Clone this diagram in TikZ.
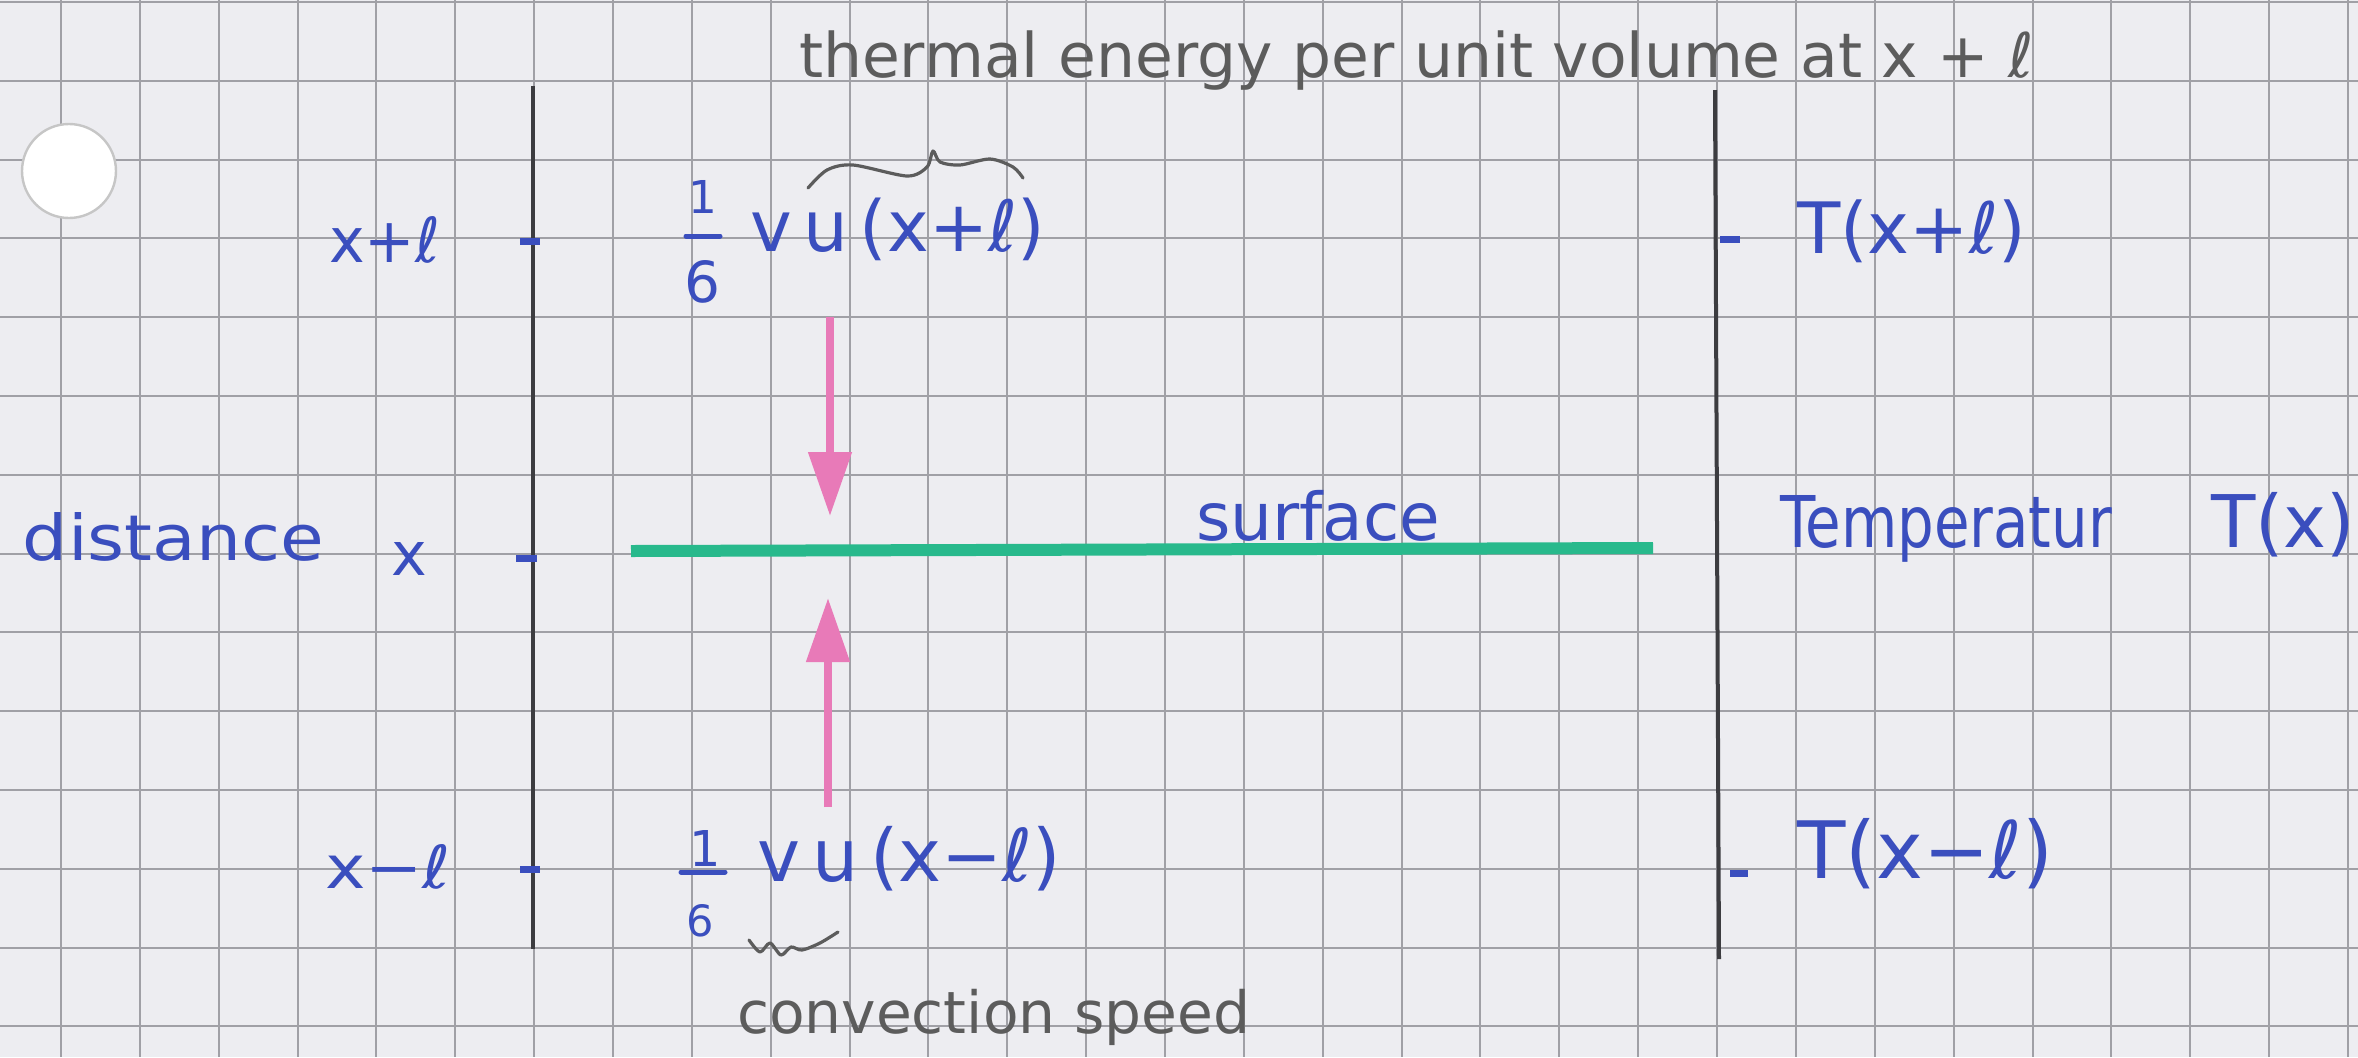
\documentclass[tikz,border=0pt]{standalone}
\usepackage{fontspec}
\setmainfont{DejaVu Sans}
\usepackage{graphicx}
\usetikzlibrary{arrows.meta}
\definecolor{paper}{RGB}{237,237,241}
\definecolor{gridc}{RGB}{160,160,166}
\definecolor{ink}{RGB}{58,78,190}
\definecolor{pencil}{RGB}{92,92,92}
\definecolor{hlpink}{RGB}{232,122,184}
\definecolor{hlgreen}{RGB}{40,185,140}
\definecolor{axisc}{RGB}{60,60,64}
\newcommand\hw[2]{\resizebox{#1pt}{!}{#2}}
\newcommand\hh[2]{\resizebox{!}{#1pt}{#2}}
\newcommand\hwh[3]{\resizebox{#1pt}{#2pt}{#3}}
\begin{document}
\begin{tikzpicture}[x=0.5pt,y=-0.5pt,
  txt/.style={inner sep=0pt, outer sep=0pt, anchor=base west},
  inktxt/.style={txt, text=ink},
  penciltxt/.style={txt, text=pencil},
  digit/.style={inner sep=0pt, outer sep=0pt, anchor=center, text=ink},
  axis/.style={draw=axisc, line width=2pt},
  tickmark/.style={draw=ink, line width=3.5pt},
  fracbar/.style={draw=ink, line width=2.5pt, line cap=round},
  flow/.style={draw=hlpink, line width=4pt, -{Triangle[width=21pt,length=32pt]}},
  surfline/.style={draw=hlgreen, line width=6pt},
  wavy/.style={draw=pencil, line width=1.6pt, line cap=round, line join=round},
  gridline/.style={draw=gridc, line width=1pt}
]
\fill[paper] (0,0) rectangle (2358,1057);
\useasboundingbox (0,0) rectangle (2358,1057);
% graph paper
\foreach \k in {0,...,29} \draw[gridline] ({61+78.86*\k},0) -- ({61+78.86*\k},1057);
\foreach \k in {0,...,13} \draw[gridline] (0,{2+78.8*\k}) -- (2358,{2+78.8*\k});
% punch hole
\draw[fill=white, draw=gray!45, line width=1.2pt] (69,171) circle [radius=23.5pt];

% vertical axes
\coordinate (Ltop) at (533,86);
\coordinate (Lbot) at (533,949);
\coordinate (Rtop) at (1715,90);
\coordinate (Rbot) at (1719,959);
\draw[axis] (Ltop) -- (Lbot);
\draw[axis] (Rtop) -- (Rbot);

% left ticks
\coordinate (t1a) at (520,241); \coordinate (t1b) at (540,241);
\coordinate (t2a) at (516,558); \coordinate (t2b) at (537,558);
\coordinate (t3a) at (520,869); \coordinate (t3b) at (540,869);
\draw[tickmark] (t1a) -- (t1b);
\draw[tickmark] (t2a) -- (t2b);
\draw[tickmark] (t3a) -- (t3b);
% right ticks
\coordinate (r1a) at (1720,239); \coordinate (r1b) at (1740,239);
\coordinate (r3a) at (1730,873); \coordinate (r3b) at (1748,873);
\draw[tickmark] (r1a) -- (r1b);
\draw[tickmark] (r3a) -- (r3b);

% top pencil note
\node[penciltxt] (topnote) at (799,77) {\hw{617.5}{thermal energy per unit volume at x + ℓ}};
\draw[wavy] plot[smooth] coordinates {(808,188) (827,170) (853,165) (907,176) (927,167) (933,151) (940,162) (960,165) (990,159) (1013,167) (1023,178)};

% left labels
\node[inktxt] (xpl) at (329,262) {\hwh{55.5}{23}{x+ℓ}};
\node[inktxt] (dist) at (23,560) {\hwh{150.5}{24}{distance}};
\node[inktxt] (xlab) at (391,575) {\hh{16.5}{x}};
\node[inktxt] (xml) at (325,888) {\hwh{63}{22}{x−ℓ}};

% upper flux
\node[digit] (one1) at (703,197) {\hh{16.5}{1}};
\coordinate (bar1a) at (686,236); \coordinate (bar1b) at (720,236);
\draw[fracbar] (bar1a) -- (bar1b);
\node[digit] (six1) at (702,282) {\hh{21}{6}};
\node[inktxt] (fup) at (750,251) {\hw{147.5}{v\,u\,(x+ℓ)}};

% lower flux
\node[digit] (one2) at (705,848) {\hh{18}{1}};
\coordinate (bar2a) at (681,872); \coordinate (bar2b) at (725,872);
\draw[fracbar] (bar2a) -- (bar2b);
\node[digit] (six2) at (700,921) {\hh{16}{6}};
\node[inktxt] (fdn) at (757,881) {\hw{152}{v\,u\,(x−ℓ)}};
\draw[wavy] plot[smooth] coordinates {(749,940) (760,952) (770,943) (781,955) (791,947) (802,950) (820,943) (838,932)};
\node[penciltxt] (conv) at (737,1033) {\hw{256.5}{convection speed}};

% arrows
\coordinate (dA) at (830,317); \coordinate (dB) at (830,516);
\coordinate (uA) at (828,807); \coordinate (uB) at (828,598);
\draw[flow] (dA) -- (dB);
\draw[flow] (uA) -- (uB);

% surface
\coordinate (gA) at (631,551); \coordinate (gB) at (1653,548);
\draw[surfline] (gA) -- (gB);
\node[inktxt] (surf) at (1196,540) {\hw{122}{surface}};

% right labels
\node[inktxt] (txp) at (1797,253) {\hw{114.5}{T(x+ℓ)}};
\node[inktxt] (temp) at (1780,547) {\hwh{166}{26}{Temperatur}};
\node[inktxt] (tx) at (2211,547) {\hw{72}{T(x)}};
\node[inktxt] (txm) at (1797,878) {\hw{128}{T(x−ℓ)}};
\end{tikzpicture}
\end{document}
